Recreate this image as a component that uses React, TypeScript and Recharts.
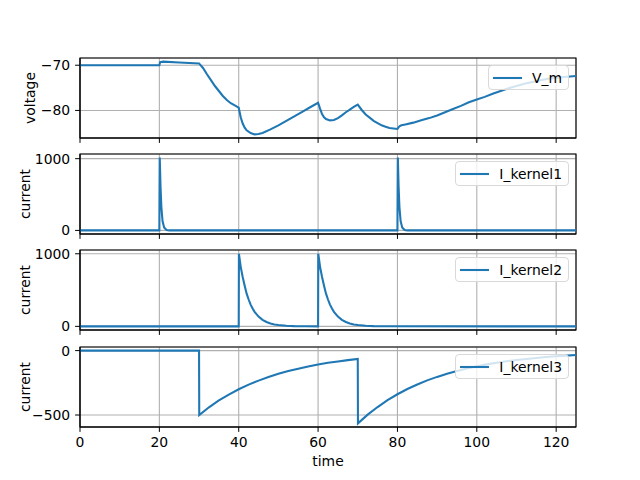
import React from 'react';
import { LineChart, Line, XAxis, YAxis, CartesianGrid, Legend, Label, ReferenceArea } from 'recharts';

const timeTicks = [0, 20, 40, 60, 80, 100, 120];

const vmTime = [0, 20, 20.2, 21, 25, 30, 31, 32, 33, 34, 35, 36, 37, 38, 39, 40, 40.5, 41, 41.5, 42, 43, 44, 45, 46, 48, 50, 52, 54, 56, 58, 60, 60.5, 61, 61.5, 62, 63, 64, 65, 66, 67, 68, 69, 70, 71, 72, 73, 74, 75, 76, 77, 78, 79, 80, 80.5, 81, 82, 84, 86, 88, 90, 92, 94, 96, 98, 100, 102, 104, 106, 108, 110, 112, 114, 116, 118, 120, 122, 125];
const vmValue = [-70, -70, -69.3, -69.2, -69.4, -69.6, -70.6, -72.0, -73.3, -74.6, -75.7, -76.8, -77.7, -78.4, -78.9, -79.4, -81.5, -82.9, -83.8, -84.4, -85.0, -85.3, -85.2, -85.0, -84.2, -83.3, -82.3, -81.3, -80.3, -79.3, -78.3, -79.6, -80.8, -81.5, -81.9, -82.2, -82.1, -81.7, -81.1, -80.4, -79.8, -79.2, -78.7, -79.9, -80.9, -81.6, -82.3, -82.8, -83.3, -83.6, -83.9, -84.0, -84.1, -83.5, -83.3, -83.1, -82.7, -82.2, -81.7, -81.1, -80.4, -79.7, -79.0, -78.2, -77.6, -77.0, -76.3, -75.7, -75.1, -74.6, -74.1, -73.7, -73.3, -73.0, -72.8, -72.6, -72.4];

const k1Time = [0, 20, 20.1, 20.3, 20.5, 20.8, 21.2, 21.8, 22.5, 80, 80.1, 80.3, 80.5, 80.8, 81.2, 81.8, 82.5, 125];
const k1Value = [0, 0, 1015, 600, 330, 130, 40, 5, 0, 0, 1015, 600, 330, 130, 40, 5, 0, 0];

const k2Time = [0, 40, 40.05, 40.5, 41, 41.5, 42, 42.5, 43, 43.5, 44, 45, 46, 47, 48, 49, 50, 52, 54, 57, 60, 60.05, 60.5, 61, 61.5, 62, 62.5, 63, 63.5, 64, 65, 66, 67, 68, 69, 70, 72, 74, 77, 125];
const k2Value = [0, 0, 1000, 820, 680, 560, 450, 370, 300, 245, 200, 135, 90, 60, 40, 27, 18, 8, 3, 1, 0, 1000, 820, 680, 560, 450, 370, 300, 245, 200, 135, 90, 60, 40, 27, 18, 8, 3, 1, 0];

const k3Time = [0, 30, 30.05, 32.5, 35, 37.5, 40, 42.5, 45, 47.5, 50, 52.5, 55, 57.5, 60, 62.5, 65, 67.5, 70, 70.05, 72.5, 75, 77.5, 80, 82.5, 85, 87.5, 90, 92.5, 95, 97.5, 100, 102.5, 105, 107.5, 110, 112.5, 115, 117.5, 120, 122.5, 125];
const k3Value = [0, 0, -500, -440, -387, -341, -300, -264, -233, -205, -180, -159, -140, -123, -108, -95, -84, -74, -65, -565, -497, -438, -385, -339, -298, -263, -231, -204, -179, -158, -139, -122, -107, -95, -83, -73, -65, -57, -50, -44, -39, -34];

const toRows = (t: number[], v: number[]) => t.map((x, i) => ({ time: x, value: v[i] }));

const panels = [
  { name: 'V_m', ylabel: 'voltage', labelX: 30, top: 58, data: toRows(vmTime, vmValue), domain: [-86.1, -68.4], ticks: [-80, -70] },
  { name: 'I_kernel1', ylabel: 'current', labelX: 25, top: 154, data: toRows(k1Time, k1Value), domain: [-50, 1065], ticks: [0, 1000] },
  { name: 'I_kernel2', ylabel: 'current', labelX: 25, top: 250, data: toRows(k2Time, k2Value), domain: [-50, 1052], ticks: [0, 1000] },
  { name: 'I_kernel3', ylabel: 'current', labelX: 25, top: 347, data: toRows(k3Time, k3Value), domain: [-593, 28], ticks: [-500, 0] },
];

const FONT = 'DejaVu Sans';
const BLUE = '#1f77b4';
const minus = (v: number) => String(v).replace('-', '\u2212');

const legendBox = (label: string) => () => (
  <div
    style={{
      boxSizing: 'border-box',
      height: 25,
      background: 'rgba(255,255,255,0.8)',
      border: '1px solid #d9d9d9',
      borderRadius: 4,
      padding: '0 6px 0 4px',
      display: 'flex',
      alignItems: 'center',
      fontFamily: FONT,
      fontSize: 13.9,
      lineHeight: '16px',
      color: '#000',
      whiteSpace: 'nowrap',
    }}
  >
    <svg width={29} height={6} style={{ marginRight: 10, display: 'block' }}>
      <line x1={0} y1={3} x2={29} y2={3} stroke={BLUE} strokeWidth={2.08} />
    </svg>
    <span>{label}</span>
  </div>
);

export default function App() {
  return (
    <div style={{ position: 'absolute', left: 0, top: 0, width: 640, height: 480, background: '#fff' }}>
      {panels.map((p, i) => {
        const last = i === panels.length - 1;
        const axisH = last ? 50 : 8;
        return (
          <div key={p.name} style={{ position: 'absolute', left: 0, top: p.top - 8 }}>
            <LineChart width={640} height={88 + axisH} data={p.data} margin={{ top: 8, right: 64, left: 0, bottom: 0 }}>
              <CartesianGrid stroke="#b0b0b0" strokeWidth={1.1} />
              <XAxis
                dataKey="time"
                type="number"
                domain={[0, 125]}
                ticks={timeTicks}
                allowDataOverflow
                height={axisH}
                stroke="#000"
                tickSize={4.9}
                tickMargin={4.9}
                tick={{ fill: '#000', fontFamily: FONT, fontSize: 13.9 }}
                tickFormatter={last ? (v: number) => String(v) : () => ''}
              >
                {last && (
                  <Label
                    content={({ viewBox }: any) => (
                      <text x={viewBox.x + viewBox.width / 2} y={viewBox.y + 39} textAnchor="middle" fontFamily={FONT} fontSize={13.9} fill="#000">
                        time
                      </text>
                    )}
                  />
                )}
              </XAxis>
              <YAxis
                type="number"
                domain={p.domain}
                ticks={p.ticks}
                allowDataOverflow
                width={80}
                stroke="#000"
                tickSize={4.9}
                tickMargin={4.9}
                tick={{ fill: '#000', fontFamily: FONT, fontSize: 13.9 }}
                tickFormatter={minus}
              >
                <Label
                  content={({ viewBox }: any) => {
                    const cy = viewBox.y + viewBox.height / 2;
                    return (
                      <text
                        x={p.labelX}
                        y={cy}
                        transform={`rotate(-90, ${p.labelX}, ${cy})`}
                        textAnchor="middle"
                        dominantBaseline="central"
                        fontFamily={FONT}
                        fontSize={13.9}
                        fill="#000"
                      >
                        {p.ylabel}
                      </text>
                    );
                  }}
                />
              </YAxis>
              <Line type="linear" dataKey="value" stroke={BLUE} strokeWidth={2.08} dot={false} isAnimationActive={false} />
              <ReferenceArea x1={0} x2={125} y1={p.domain[0]} y2={p.domain[1]} fill="none" stroke="#000" strokeWidth={1.1} ifOverflow="visible" />
              <Legend
                layout="horizontal"
                verticalAlign="middle"
                align="center"
                content={legendBox(p.name)}
                wrapperStyle={{ top: 15, right: 71, width: 'auto' }}
              />
            </LineChart>
          </div>
        );
      })}
    </div>
  );
}
